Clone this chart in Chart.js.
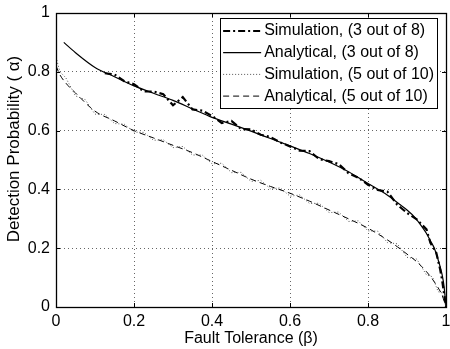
<!DOCTYPE html>
<html>
<head>
<meta charset="utf-8">
<script src="https://cdn.jsdelivr.net/npm/chart.js@4"></script>
<style>
  html, body { margin: 0; padding: 0; background: #fff; }
  #wrap { width: 450px; height: 349px; }
</style>
</head>
<body>
<div id="wrap"><canvas id="myChart"></canvas></div>
<script>
const FONT = "'Liberation Sans', Arial, Helvetica, sans-serif";

// Simulation, (3 out of 8)
const sim3x = [0.125,0.15,0.175,0.2,0.225,0.25,0.275,0.3,0.325,0.35,0.375,0.4,0.425,0.45,0.475,0.5,0.525,0.55,0.575,0.6,0.625,0.65,0.675,0.7,0.725,0.75,0.775,0.8,0.825,0.85,0.875,0.9,0.925,0.95,0.96,0.975,0.985,0.99,1.0];
const sim3y = [0.795,0.791,0.768,0.758,0.733,0.733,0.724,0.686,0.714,0.672,0.668,0.650,0.626,0.633,0.605,0.604,0.586,0.578,0.560,0.546,0.532,0.530,0.503,0.496,0.486,0.455,0.440,0.416,0.398,0.392,0.348,0.320,0.298,0.264,0.218,0.185,0.128,0.092,0.0];

// Analytical, (3 out of 8)
const ana3x = [0.02,0.05,0.1,0.15,0.2,0.25,0.3,0.35,0.4,0.45,0.5,0.55,0.6,0.65,0.7,0.75,0.8,0.85,0.88,0.9,0.92,0.94,0.95,0.96,0.97,0.98,0.985,0.99,0.995,1.0];
const ana3y = [0.90,0.865,0.815,0.783,0.752,0.727,0.703,0.674,0.645,0.622,0.598,0.573,0.548,0.522,0.493,0.46,0.42,0.38,0.35,0.33,0.305,0.27,0.25,0.225,0.2,0.16,0.137,0.11,0.07,0.0];

// Simulation, (5 out of 10)
const sim5x = [0,0.01,0.025,0.05,0.075,0.1,0.125,0.15,0.175,0.2,0.225,0.25,0.275,0.3,0.325,0.35,0.375,0.4,0.425,0.45,0.475,0.5,0.525,0.55,0.575,0.6,0.625,0.65,0.675,0.7,0.725,0.75,0.775,0.8,0.825,0.85,0.875,0.9,0.925,0.95,0.965,0.98,0.99,1.0];
const sim5y = [0.85,0.80,0.78,0.718,0.705,0.656,0.655,0.624,0.622,0.595,0.594,0.567,0.569,0.542,0.546,0.517,0.517,0.487,0.489,0.457,0.458,0.427,0.431,0.402,0.405,0.377,0.381,0.352,0.353,0.321,0.323,0.291,0.293,0.259,0.258,0.219,0.215,0.169,0.163,0.109,0.103,0.052,0.048,0.0];

// Analytical, (5 out of 10)
const ana5x = [0,0.01,0.025,0.05,0.1,0.15,0.2,0.25,0.3,0.35,0.4,0.45,0.5,0.55,0.6,0.65,0.7,0.75,0.8,0.85,0.875,0.9,0.925,0.95,0.965,0.98,0.99,1.0];
const ana5y = [0.82,0.79,0.762,0.728,0.666,0.633,0.6,0.575,0.55,0.525,0.495,0.465,0.435,0.41,0.387,0.36,0.33,0.3,0.268,0.228,0.205,0.18,0.154,0.12,0.095,0.065,0.04,0.0];

const tickValues = [0, 0.2, 0.4, 0.6, 0.8, 1];
const yTitle = 'Detection Probability ( α)';

function pts(xs, ys) {
    return xs.map((x, i) => ({ x: x, y: ys[i] }));
}

// legend box inside the axes, top right
const boxLegend = {
    id: 'boxLegend',
    afterDatasetsDraw(chart) {
        const ctx = chart.ctx;
        const area = chart.chartArea;
        const sets = chart.data.datasets;
        ctx.save();
        ctx.font = '16px ' + FONT;
        let maxW = 0;
        sets.forEach(ds => { maxW = Math.max(maxW, ctx.measureText(ds.label).width); });
        const lineLen = 38, rowH = 21.7;
        const right = area.right - 9;
        const top = area.top + 5;
        const w = 3 + lineLen + 3 + maxW + 3;
        const h = rowH * sets.length + 3;
        const left = right - w;
        ctx.fillStyle = '#fff';
        ctx.fillRect(left, top, w, h);
        ctx.strokeStyle = '#000';
        ctx.lineWidth = 1;
        ctx.setLineDash([]);
        ctx.strokeRect(Math.round(left) + 0.5, Math.round(top) + 0.5, Math.round(w), Math.round(h));
        sets.forEach((ds, i) => {
            const y = top + 13 + i * rowH;
            ctx.beginPath();
            ctx.strokeStyle = ds.borderColor;
            ctx.lineWidth = ds.borderWidth;
            ctx.setLineDash(ds.borderDash || []);
            ctx.moveTo(left + 3, y);
            ctx.lineTo(left + 3 + lineLen, y);
            ctx.stroke();
            ctx.setLineDash([]);
            ctx.fillStyle = '#000';
            ctx.textBaseline = 'middle';
            ctx.textAlign = 'left';
            ctx.fillText(ds.label, left + 3 + lineLen + 3, y);
        });
        ctx.restore();
    }
};

// axes frame with inward tick marks, plus the y axis title
const frame = {
    id: 'frame',
    afterDatasetsDraw(chart) {
        const ctx = chart.ctx;
        const a = chart.chartArea;
        const xs = chart.scales.x, ys = chart.scales.y;
        ctx.save();
        ctx.strokeStyle = '#000';
        ctx.lineWidth = 1;
        ctx.setLineDash([]);
        ctx.beginPath();
        tickValues.forEach(v => {
            const px = Math.round(xs.getPixelForValue(v)) + 0.5;
            ctx.moveTo(px, a.bottom); ctx.lineTo(px, a.bottom - 4);
            ctx.moveTo(px, a.top); ctx.lineTo(px, a.top + 4);
            const py = Math.round(ys.getPixelForValue(v)) + 0.5;
            ctx.moveTo(a.left, py); ctx.lineTo(a.left + 4, py);
            ctx.moveTo(a.right, py); ctx.lineTo(a.right - 4, py);
        });
        ctx.stroke();
        ctx.lineWidth = 1.3;
        ctx.strokeRect(Math.round(a.left) + 0.5, Math.round(a.top) + 0.5, Math.round(a.right - a.left), Math.round(a.bottom - a.top));

        ctx.translate(14, (a.top + a.bottom) / 2 - 11);
        ctx.rotate(-Math.PI / 2);
        ctx.font = '17px ' + FONT;
        ctx.fillStyle = '#000';
        ctx.textAlign = 'center';
        ctx.textBaseline = 'middle';
        ctx.fillText(yTitle, 0, 0);
        ctx.restore();
    }
};

const ctx = document.getElementById('myChart').getContext('2d');
new Chart(ctx, {
    type: 'line',
    data: {
        datasets: [
            {
                label: 'Simulation, (3 out of 8)',
                data: pts(sim3x, sim3y),
                borderColor: '#000',
                borderWidth: 2.2,
                borderDash: [7, 3, 2, 3],
                pointRadius: 0,
                tension: 0,
                order: 1
            },
            {
                label: 'Analytical, (3 out of 8)',
                data: pts(ana3x, ana3y),
                borderColor: '#000',
                borderWidth: 1.2,
                pointRadius: 0,
                cubicInterpolationMode: 'monotone',
                order: 2
            },
            {
                label: 'Simulation, (5 out of 10)',
                data: pts(sim5x, sim5y),
                borderColor: '#555',
                borderWidth: 1,
                borderDash: [1, 2],
                pointRadius: 0,
                tension: 0,
                order: 3
            },
            {
                label: 'Analytical, (5 out of 10)',
                data: pts(ana5x, ana5y),
                borderColor: '#000',
                borderWidth: 1,
                borderDash: [6, 4],
                pointRadius: 0,
                cubicInterpolationMode: 'monotone',
                order: 4
            }
        ]
    },
    options: {
        animation: false,
        responsive: true,
        maintainAspectRatio: false,
        layout: { padding: { top: 13, right: 4, left: 0, bottom: 0 } },
        plugins: {
            legend: { display: false },
            tooltip: { enabled: false }
        },
        scales: {
            x: {
                type: 'linear',
                min: 0,
                max: 1,
                afterBuildTicks: scale => { scale.ticks = tickValues.map(v => ({ value: v })); },
                afterFit: scale => {
                    scale.height = 42;
                    scale.paddingLeft = 0;
                    scale.paddingRight = 0;
                },
                ticks: {
                    color: '#000',
                    font: { family: FONT, size: 16 },
                    padding: 5,
                    maxRotation: 0,
                    callback: v => String(v)
                },
                grid: { color: '#666', lineWidth: 1, drawTicks: false },
                border: { display: false, dash: [1, 3] },
                title: {
                    display: true,
                    text: 'Fault Tolerance (β)',
                    color: '#000',
                    font: { family: FONT, size: 16 },
                    padding: { top: 0, bottom: 1 }
                }
            },
            y: {
                type: 'linear',
                min: 0,
                max: 1,
                afterBuildTicks: scale => { scale.ticks = tickValues.map(v => ({ value: v })); },
                afterFit: scale => {
                    scale.width = 56;
                    scale.paddingTop = 0;
                    scale.paddingBottom = 0;
                },
                ticks: {
                    color: '#000',
                    font: { family: FONT, size: 16 },
                    padding: 6,
                    callback: v => String(v)
                },
                grid: { color: '#666', lineWidth: 1, drawTicks: false },
                border: { display: false, dash: [1, 3] }
            }
        }
    },
    plugins: [frame, boxLegend]
});
</script>
</body>
</html>
